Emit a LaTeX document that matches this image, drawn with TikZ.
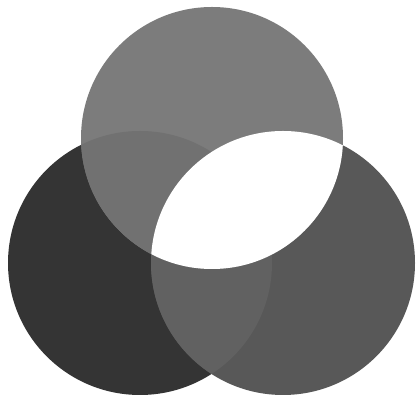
\documentclass[tikz,border=0pt]{standalone}
\begin{document}
\begin{tikzpicture}[x=1pt,y=1pt]
\definecolor{cleft}{HTML}{343434}
\definecolor{cright}{HTML}{585858}
\definecolor{ctop}{HTML}{7C7C7C}
\definecolor{ctl}{HTML}{717171}
\definecolor{clr}{HTML}{616161}
\useasboundingbox (0,0) rectangle (418,398);
\fill[white] (0,0) rectangle (418,398);
\coordinate (T) at (212,260);
\coordinate (L) at (140,135);
\coordinate (R) at (283,135);
\def\rt{131}
\def\rl{132}
% single circles
\fill[cleft] (L) circle (\rl);
\fill[cright] (R) circle (\rl);
% left ∩ right
\begin{scope}
  \clip (L) circle (\rl);
  \fill[clr] (R) circle (\rl);
\end{scope}
% top circle
\fill[ctop] (T) circle (\rt);
% top ∩ left
\begin{scope}
  \clip (T) circle (\rt);
  \fill[ctl] (L) circle (\rl);
\end{scope}
% top ∩ right (white lens)
\begin{scope}
  \clip (T) circle (\rt);
  \fill[white] (R) circle (\rl);
\end{scope}
\end{tikzpicture}
\end{document}
